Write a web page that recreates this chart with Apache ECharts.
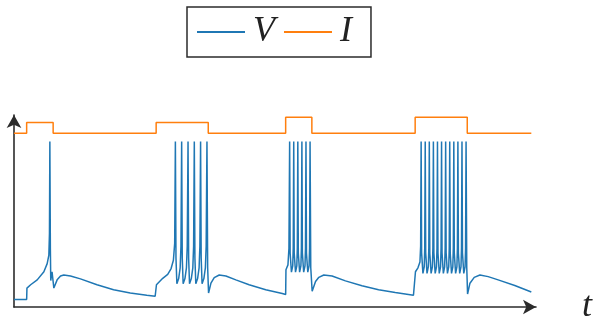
<!DOCTYPE html>
<html>
<head>
<meta charset="utf-8">
<script src="https://cdn.jsdelivr.net/npm/echarts@6/dist/echarts.min.js"></script>
<style>
  html, body { margin: 0; padding: 0; background: #fff; }
  #chart { width: 595px; height: 325px; }
</style>
</head>
<body>
<div id="chart"></div>
<script>
// Injected current: step times and the level held from each time on
const currentTimes  = [0, 12.7, 39.3, 142.7, 195, 272.7, 299, 402.7, 455, 519.3];
const currentLevels = [177.3, 188.3, 177.3, 188.3, 177.3, 193.7, 177.3, 193.7, 177.3, 177.3];

// Membrane potential, [t, V] samples, one array per stimulus epoch
const voltageEpoch1 = [
  [0, 7.7], [12.7, 7.7], [13, 19.3], [16.7, 22.7], [23.3, 27.7], [30, 36], [33.3, 44.3],
  [35, 53], [35.6, 75], [36, 169], [36.5, 60], [36.9, 27], [38.2, 36], [40, 19.3],
  [43.3, 27.7], [46.7, 31.7], [50, 32.7], [56.7, 31.7], [66.7, 28.7], [83.3, 22.7],
  [100, 17.7], [116.7, 14.3], [133.3, 12], [141.7, 11], [142.7, 11]
];
const voltageEpoch2 = [
  [143, 22.7], [144.3, 24.3], [149.3, 29.3], [154.3, 33.3], [157.7, 39.3], [160, 47.7], [161.3, 65], [162, 169],
  [162.6, 50], [163.5, 23.7], [165.3, 29], [166.8, 40], [167.6, 62], [168.3, 169],
  [168.9, 50], [169.8, 23.7], [171.6, 29], [173.1, 40], [173.9, 62], [174.7, 169],
  [175.3, 50], [176.2, 23.7], [178, 29], [179.5, 40], [180.3, 62], [181, 169],
  [181.6, 50], [182.5, 23.7], [184.3, 29], [185.8, 40], [186.6, 62], [187.3, 169],
  [187.9, 50], [188.8, 23.7], [190.6, 29], [192.1, 40], [192.9, 62], [193.7, 169],
  [194.4, 40], [195.3, 14.3], [197.7, 24.3], [201, 30], [206, 32.7], [212.7, 31.7],
  [222.7, 27.7], [236, 22.7], [252.7, 17.7], [269.3, 13.7], [272.7, 12.7]
];
const voltageEpoch3 = [
  [273, 38], [275, 43], [276, 60], [276.7, 169],
  [277.2, 55], [278.5, 35.5], [279.8, 42], [280.3, 60], [280.8, 169],
  [281.3, 55], [282.6, 35.5], [283.9, 42], [284.4, 60], [284.9, 169],
  [285.4, 55], [286.7, 35.5], [288, 42], [288.5, 60], [289, 169],
  [289.5, 55], [290.8, 35.5], [292.1, 42], [292.6, 60], [293.1, 169],
  [293.6, 55], [294.9, 35.5], [296.2, 42], [296.7, 60], [297.2, 169],
  [297.9, 40], [299.3, 16], [302.7, 26], [306, 30.3], [311, 32.7], [319.3, 31.7],
  [332.7, 26.7], [349.3, 21.7], [366, 17.7], [382.7, 14.7], [401, 12], [402.7, 11]
];
const voltageEpoch4 = [
  [403, 36], [405.5, 40], [407.5, 46], [408.2, 62], [408.7, 169],
  [409.2, 55], [410.5, 34.3], [411.8, 41], [412.3, 60], [412.8, 169],
  [413.3, 55], [414.6, 34.3], [415.9, 41], [416.4, 60], [416.9, 169],
  [417.4, 55], [418.7, 34.3], [420, 41], [420.5, 60], [421, 169],
  [421.5, 55], [422.8, 34.3], [424.1, 41], [424.6, 60], [425.1, 169],
  [425.6, 55], [426.9, 34.3], [428.2, 41], [428.7, 60], [429.2, 169],
  [429.7, 55], [431, 34.3], [432.3, 41], [432.8, 60], [433.3, 169],
  [433.8, 55], [435.1, 34.3], [436.4, 41], [436.9, 60], [437.4, 169],
  [437.9, 55], [439.2, 34.3], [440.5, 41], [441, 60], [441.5, 169],
  [442, 55], [443.3, 34.3], [444.6, 41], [445.1, 60], [445.6, 169],
  [446.1, 55], [447.4, 34.3], [448.7, 41], [449.2, 60], [449.7, 169],
  [450.2, 55], [451.5, 34.3], [452.8, 41], [453.3, 60], [453.8, 169],
  [454.5, 40], [455.3, 13.3], [457.7, 24.3], [462, 30.3], [467.7, 32.7], [476, 31],
  [486, 27.7], [502.7, 22], [519.3, 15.3]
];

const voltage = [].concat(voltageEpoch1, voltageEpoch2, voltageEpoch3, voltageEpoch4);
const current = currentTimes.map((t, i) => [t, currentLevels[i]]);

const serif = '"Liberation Serif", "DejaVu Serif", serif';
const axisColor = '#2b2b2b';

const chart = echarts.init(document.getElementById('chart'), null, { renderer: 'canvas' });
chart.setOption({
  animation: false,
  backgroundColor: '#ffffff',
  grid: { left: 14, right: 57, top: 115, bottom: 14, containLabel: false },
  legend: {
    left: 187, top: 7,
    padding: [7, 19, 7, 10],
    itemGap: 9,
    itemWidth: 48,
    itemHeight: 2,
    icon: 'rect',
    borderColor: axisColor,
    borderWidth: 1.5,
    textStyle: { fontFamily: serif, fontStyle: 'italic', fontSize: 36, color: '#222', padding: [0, 0, 0, 3] },
    data: ['V', 'I']
  },
  xAxis: {
    type: 'value', min: 0, max: 524,
    name: 't', nameLocation: 'end', nameGap: 46,
    nameTextStyle: { fontFamily: serif, fontStyle: 'italic', fontSize: 36, color: '#222', verticalAlign: 'middle' },
    axisLine: { lineStyle: { color: axisColor, width: 1.6 }, symbol: ['none', 'arrow'], symbolSize: [11, 13] },
    axisTick: { show: false }, axisLabel: { show: false }, splitLine: { show: false }
  },
  yAxis: {
    type: 'value', min: 0, max: 196,
    axisLine: { show: true, lineStyle: { color: axisColor, width: 1.6 }, symbol: ['none', 'arrow'], symbolSize: [11, 13] },
    axisTick: { show: false }, axisLabel: { show: false }, splitLine: { show: false }
  },
  series: [
    {
      name: 'V', type: 'line', data: voltage, showSymbol: false, symbol: 'none',
      sampling: null, lineStyle: { color: '#1f77b4', width: 1.5 }, itemStyle: { color: '#1f77b4' }, z: 3
    },
    {
      name: 'I', type: 'line', data: current, step: 'end', showSymbol: false, symbol: 'none',
      lineStyle: { color: '#ff7f0e', width: 1.5 }, itemStyle: { color: '#ff7f0e' }, z: 2
    }
  ]
});
</script>
</body>
</html>
